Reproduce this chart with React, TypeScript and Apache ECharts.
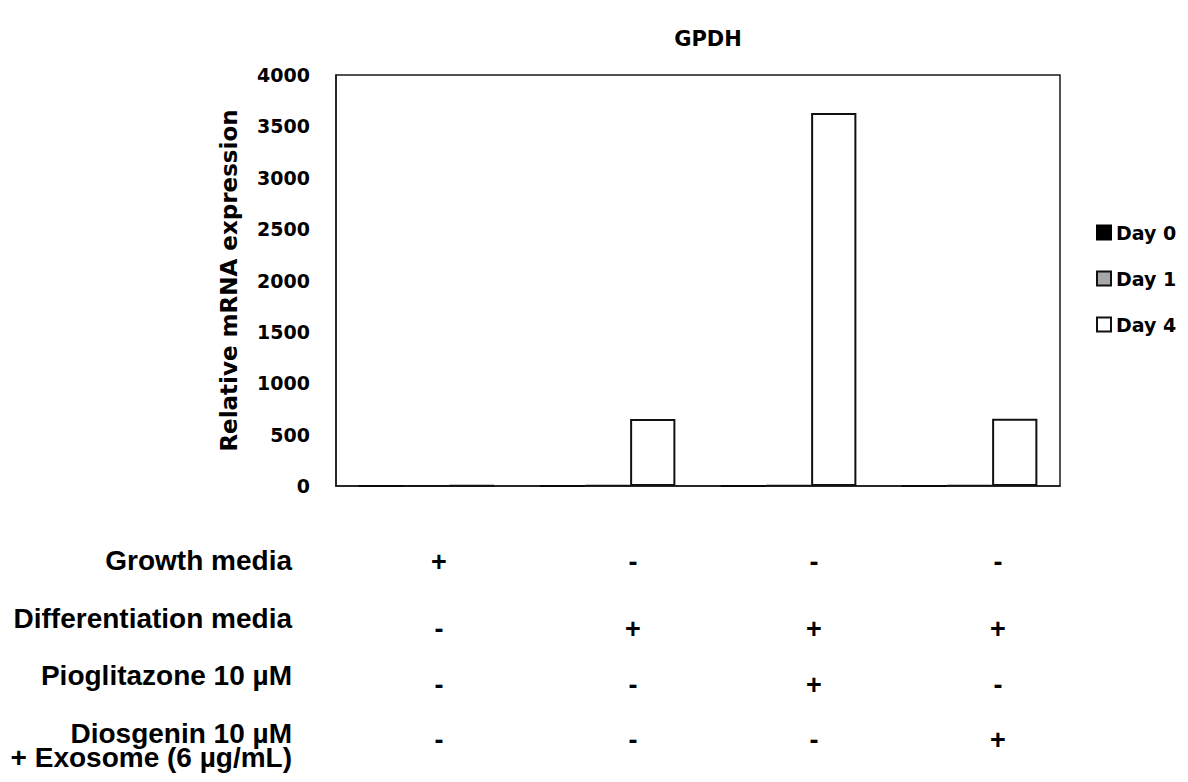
import React, { useEffect, useRef } from "react";
import * as echarts from "echarts";

const categories = ["G1", "G2", "G3", "G4"];
const day0 = [1, 1, 1, 1];
const day1 = [6, 8, 9, 8];
const day4 = [4, 652, 3630, 655];
const yTicks = [0, 4000, 500];

const rowLabels = [
  "Growth media",
  "Differentiation media",
  "Pioglitazone 10 µM",
  "Diosgenin 10 µM\n+ Exosome (6 µg/mL)",
];
const growth = ["+", "-", "-", "-"];
const differentiation = ["-", "+", "+", "+"];
const pioglitazone = ["-", "-", "+", "-"];
const diosgenin = ["-", "-", "-", "+"];
const signRows = [growth, differentiation, pioglitazone, diosgenin];

const rowOffsets = [74, 132, 189, 259];
const rowMargins = [-12, -3, -4, -19];
const colShift = [25, 51, 51, 57];

const FONT_TICK = "DejaVu Sans";
const FONT_TABLE = "Liberation Sans";

export default function App() {
  const ref = useRef<HTMLDivElement>(null);
  useEffect(() => {
    if (!ref.current) return;
    const chart = echarts.init(ref.current, undefined, { renderer: "svg" });

    const tableAxes = signRows.map((row, i) => ({
      type: "category",
      gridIndex: 0,
      position: "bottom",
      offset: rowOffsets[i],
      data: row.map((s, j) => ({
        value: s,
        textStyle: { padding: [0, 0, 0, colShift[j]] },
      })),
      axisLine: { show: false },
      axisTick: { show: false },
      splitLine: { show: false },
      axisLabel: {
        interval: 0,
        margin: rowMargins[i],
        color: "#000",
        fontFamily: FONT_TABLE,
        fontWeight: "bold",
        fontSize: 27,
      },
      name: rowLabels[i],
      nameLocation: "start",
      nameGap: 44,
      nameTextStyle: {
        color: "#000",
        fontFamily: FONT_TABLE,
        fontWeight: "bold",
        fontSize: 28,
        lineHeight: 24,
        align: "right",
        verticalAlign: "middle",
      },
    }));

    const barBase = {
      type: "bar",
      barGap: "0%",
      barCategoryGap: "25%",
    };

    chart.setOption({
      animation: false,
      title: {
        text: "GPDH",
        left: 703,
        top: 23,
        textAlign: "center",
        textStyle: {
          fontFamily: FONT_TICK,
          fontWeight: "bold",
          fontSize: 21,
          color: "#000",
        },
      },
      legend: {
        orient: "vertical",
        left: 1091,
        top: 218,
        itemWidth: 14,
        itemHeight: 14,
        itemGap: 27,
        icon: "rect",
        textStyle: {
          fontFamily: FONT_TICK,
          fontWeight: "bold",
          fontSize: 19,
          color: "#000",
        },
        data: ["Day 0", "Day 1", "Day 4"],
      },
      grid: {
        left: 336,
        right: 128,
        top: 75,
        bottom: 296,
        show: true,
        borderColor: "#1a1a1a",
        borderWidth: 1.5,
        backgroundColor: "transparent",
      },
      xAxis: [
        {
          type: "category",
          data: categories,
          axisLine: { show: true, lineStyle: { color: "#1a1a1a", width: 1.5 } },
          axisTick: { show: false },
          axisLabel: { show: false },
          splitLine: { show: false },
        },
        ...tableAxes,
      ],
      yAxis: {
        type: "value",
        min: yTicks[0],
        max: yTicks[1],
        interval: yTicks[2],
        axisLine: { show: true, lineStyle: { color: "#1a1a1a", width: 1.5 } },
        axisTick: { show: false },
        splitLine: { show: false },
        axisLabel: {
          margin: 26,
          color: "#000",
          fontFamily: FONT_TICK,
          fontWeight: "bold",
          fontSize: 19,
          formatter: (v: number) => String(v),
        },
        name: "Relative mRNA expression",
        nameLocation: "middle",
        nameGap: 96,
        nameRotate: 90,
        nameTextStyle: {
          color: "#000",
          fontFamily: FONT_TICK,
          fontWeight: "bold",
          fontSize: 23,
        },
      },
      series: [
        {
          ...barBase,
          name: "Day 0",
          data: day0,
          itemStyle: { color: "#000", borderColor: "#000", borderWidth: 1.5 },
        },
        {
          ...barBase,
          name: "Day 1",
          data: day1,
          itemStyle: { color: "#a8a8a8", borderColor: "#111", borderWidth: 1.5 },
        },
        {
          ...barBase,
          name: "Day 4",
          data: day4,
          itemStyle: { color: "#fff", borderColor: "#111", borderWidth: 2 },
        },
      ],
    });
    return () => chart.dispose();
  }, []);
  return <div ref={ref} style={{ width: 1188, height: 782, margin: -8 }} />;
}
